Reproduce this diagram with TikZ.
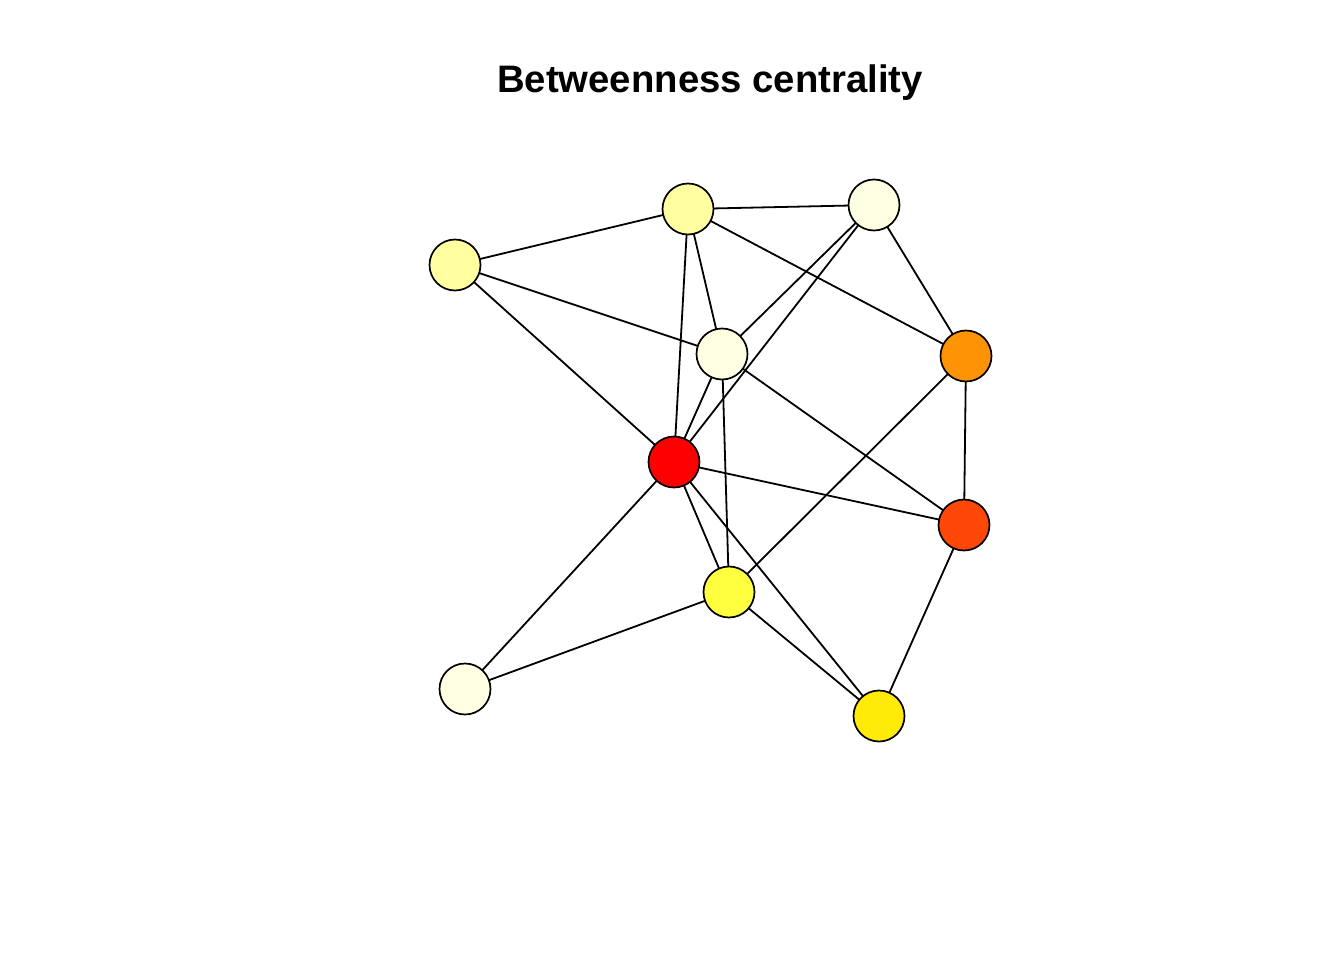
\documentclass[tikz,border=0pt]{standalone}
\usepackage{fontspec}
\setmainfont{Liberation Sans}
\usetikzlibrary{backgrounds}
\definecolor{cLY}{HTML}{FFFFA0}
\definecolor{cVL}{HTML}{FFFFE3}
\definecolor{cOr}{HTML}{FF9306}
\definecolor{cRd}{HTML}{FF0000}
\definecolor{cOR}{HTML}{FF4708}
\definecolor{cYe}{HTML}{FFFF40}
\definecolor{cGd}{HTML}{FFEA08}
\tikzset{
  vtx/.style={circle, draw=black, line width=1.7pt, minimum size=51pt, inner sep=0pt},
  edge/.style={draw=black, line width=1.8pt}
}
\begin{document}
\begin{tikzpicture}[x=1pt,y=-1pt]
\useasboundingbox (0,0) rectangle (1344,960);
\node[font=\bfseries\fontsize{38.3}{44}\selectfont, anchor=base] (title) at (710,93) {Betweenness centrality};
\node[vtx, fill=cLY] (A) at (688,209) {};
\node[vtx, fill=cVL] (B) at (874,205) {};
\node[vtx, fill=cLY] (C) at (455,265) {};
\node[vtx, fill=cVL] (D) at (722,354) {};
\node[vtx, fill=cOr] (E) at (966,356) {};
\node[vtx, fill=cRd] (F) at (674,462) {};
\node[vtx, fill=cOR] (G) at (964,525) {};
\node[vtx, fill=cYe] (H) at (729,592) {};
\node[vtx, fill=cVL] (I) at (465,689) {};
\node[vtx, fill=cGd] (J) at (879,716) {};
\begin{scope}[on background layer]
\fill[white] (0,0) rectangle (1344,960);
\foreach \u/\v in {A/B,A/C,A/D,A/F,A/E,B/D,B/F,B/E,C/D,C/F,D/F,D/H,D/G,E/G,E/H,F/G,F/H,F/J,F/I,I/H,H/J,G/J}
  \draw[edge] (\u.center) -- (\v.center);
\end{scope}
\end{tikzpicture}
\end{document}
